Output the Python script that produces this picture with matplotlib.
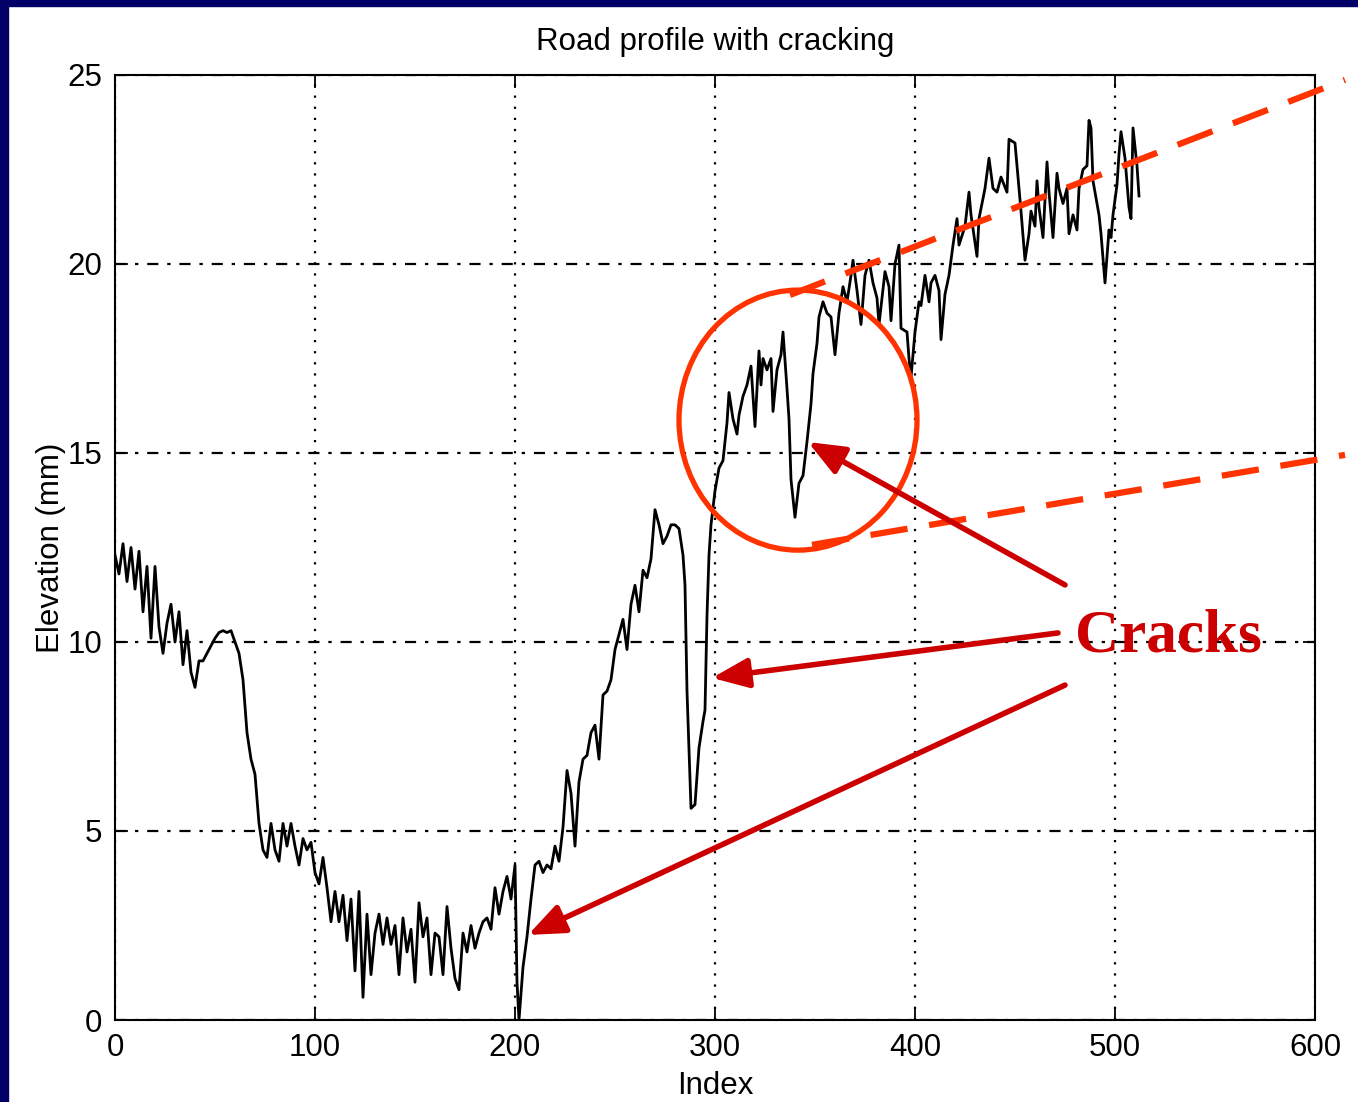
import matplotlib
matplotlib.use("Agg")
import matplotlib.pyplot as plt
from matplotlib.patches import Ellipse, Rectangle

# ---- data ----
index = [0, 2, 4, 6, 8, 10, 12, 14, 16, 18, 20, 22, 24, 26, 28, 30, 32, 34, 36, 38,
         40, 42, 44, 46, 48, 50, 52, 54, 56, 58, 60, 62, 64, 66, 68, 70, 72, 74, 76, 78,
         80, 82, 84, 86, 88, 90, 92, 94, 96, 98, 100, 102, 104, 106, 108, 110, 112, 114, 116, 118,
         120, 122, 124, 126, 128, 130, 132, 134, 136, 138, 140, 142, 144, 146, 148, 150, 152, 154, 156, 158,
         160, 162, 164, 166, 168, 170, 172, 174, 176, 178, 180, 182, 184, 186, 188, 190, 192, 194, 196, 198,
         200, 201, 202, 204, 206, 208, 210, 212, 214, 216, 218, 220, 222, 224, 226, 228, 230, 232, 234, 236,
         238, 240, 242, 244, 246, 248, 250, 252, 254, 256, 258, 260, 262, 264, 266, 268, 270, 272, 274, 276,
         278, 280, 282, 284, 285, 286, 288, 290, 292, 294, 295, 296, 297, 298, 300,
         302, 304, 306, 307, 309, 311, 312, 314, 316, 318, 320, 322, 323, 324, 326, 328, 329, 331, 333, 334,
         336, 337, 338, 340, 342, 344, 346, 348, 349, 351, 352, 354, 356, 358, 360, 362, 364, 366, 368, 369,
         371, 373, 375, 377, 379, 381, 382, 385, 387, 388, 390, 392, 393, 396, 397, 398, 400, 402, 403, 405,
         407, 408, 410, 412, 413, 415, 417, 419, 421, 422, 425, 427, 428, 431, 432, 435, 437, 439, 441, 443,
         446, 447, 450, 452, 453, 455, 457, 458, 460, 461, 462, 464, 466, 467, 469, 471, 472, 474, 476, 477,
         479, 481, 482, 484, 486, 487, 488, 489, 491, 492, 493, 495, 497, 498, 499, 501, 502, 503, 505, 507,
         508, 509, 511, 512]
elevation = [12.3, 11.8, 12.6, 11.6, 12.5, 11.4, 12.4, 10.8, 12.0, 10.1, 12.0, 10.4, 9.7, 10.5, 11.0, 10.0, 10.8, 9.4, 10.3, 9.2,
             8.8, 9.5, 9.5, 9.7, 9.9, 10.1, 10.25, 10.3, 10.25, 10.3, 10.0, 9.7, 9.0, 7.6, 6.9, 6.5, 5.2, 4.5, 4.3, 5.2,
             4.5, 4.2, 5.2, 4.6, 5.2, 4.6, 4.1, 4.8, 4.5, 4.7, 3.9, 3.6, 4.3, 3.5, 2.6, 3.4, 2.6, 3.3, 2.1, 3.2,
             1.3, 3.4, 0.6, 2.8, 1.2, 2.3, 2.8, 2.0, 2.7, 2.0, 2.5, 1.2, 2.7, 1.8, 2.4, 1.0, 3.1, 2.2, 2.7, 1.2,
             2.3, 2.2, 1.2, 3.0, 1.9, 1.1, 0.8, 2.3, 1.8, 2.5, 1.9, 2.3, 2.6, 2.7, 2.4, 3.5, 2.8, 3.4, 3.8, 3.2,
             4.1, 1.0, 0.0, 1.4, 2.2, 3.2, 4.1, 4.2, 3.9, 4.1, 4.0, 4.6, 4.2, 5.1, 6.6, 6.0, 4.6, 6.3, 6.9, 7.0,
             7.6, 7.8, 6.9, 8.6, 8.7, 9.0, 9.8, 10.2, 10.6, 9.8, 11.0, 11.5, 10.8, 11.9, 11.7, 12.2, 13.5, 13.1, 12.6, 12.8,
             13.1, 13.1, 13.0, 12.3, 11.5, 8.7, 5.6, 5.7, 7.2, 7.9, 8.2, 10.7, 12.3, 13.1, 14.0,
             14.6, 14.8, 15.8, 16.6, 15.9, 15.5, 16.0, 16.5, 16.8, 17.3, 15.7, 17.7, 16.8, 17.5, 17.2, 17.5, 16.1, 17.2, 17.6, 18.2,
             16.7, 15.9, 14.3, 13.3, 14.2, 14.4, 15.3, 16.3, 17.1, 17.9, 18.6, 19.0, 18.7, 18.6, 17.6, 18.7, 19.4, 19.0, 19.7, 20.1,
             19.3, 18.4, 19.7, 20.1, 19.5, 19.1, 18.4, 19.8, 19.4, 18.5, 20.0, 20.5, 18.3, 18.2, 17.5, 17.0, 18.2, 19.0, 18.9, 19.7,
             19.0, 19.5, 19.7, 19.3, 18.0, 19.2, 19.7, 20.5, 21.2, 20.5, 21.0, 21.9, 21.3, 20.2, 21.2, 22.0, 22.8, 22.0, 21.9, 22.3,
             21.9, 23.3, 23.2, 22.0, 21.4, 20.1, 20.8, 21.4, 21.0, 22.2, 21.5, 20.7, 22.7, 21.9, 20.7, 22.4, 22.0, 21.6, 22.0, 20.8,
             21.3, 20.9, 22.0, 22.5, 22.6, 23.8, 23.6, 22.2, 21.6, 21.3, 20.8, 19.5, 20.9, 20.7, 21.3, 22.1, 22.9, 23.5, 22.8, 21.5,
             21.2, 23.6, 22.6, 21.8]

x_ticks = [0, 100, 200, 300, 400, 500, 600]
y_ticks = [0, 5, 10, 15, 20, 25]

title = "Road profile with cracking"
xlabel = "Index"
ylabel = "Elevation (mm)"
note = "Cracks"

W, H = 1358, 1102
plt.rcParams["font.family"] = ["Liberation Sans", "DejaVu Sans"]
fig = plt.figure(figsize=(W / 100, H / 100), dpi=100)
fig.patch.set_facecolor("white")

# navy frame on top and left
fig.patches.append(Rectangle((0, 1 - 6 / H), 1, 6 / H, transform=fig.transFigure,
                             color="#000066", zorder=0))
fig.patches.append(Rectangle((0, 0), 8 / W, 1, transform=fig.transFigure,
                             color="#000066", zorder=0))

ax = fig.add_axes([115 / W, 1 - 1020 / H, 1200 / W, 945 / H])
ax.plot(index, elevation, color="black", lw=2.0, zorder=3)
ax.set_xlim(0, 600)
ax.set_ylim(0, 25)
ax.set_xticks(x_ticks)
ax.set_yticks(y_ticks)
ax.tick_params(direction="in", top=True, right=True, length=9, width=1.3,
               labelsize=22.5, pad=9)
for s in ax.spines.values():
    s.set_linewidth(1.5)
ax.xaxis.grid(True, color="black", lw=1.6, linestyle=(0, (1, 4)))
ax.yaxis.grid(True, color="black", lw=1.6, linestyle=(0, (5, 4, 1.5, 4)))
ax.set_axisbelow(True)
ax.set_title(title, fontsize=22.5, pad=18)
ax.set_xlabel(xlabel, fontsize=22.5, labelpad=6)
ax.set_ylabel(ylabel, fontsize=22.5, labelpad=1)

# annotations
red = "#FF3300"
dark = "#CC0000"
ax.add_patch(Ellipse((341.5, 15.87), 119, 6.88, fill=False, edgecolor=red, lw=3.8,
                     clip_on=False, zorder=5))
ax.plot([337.5, 615], [19.18, 24.87], color=red, lw=4.5, linestyle=(0, (6, 3.5)),
        clip_on=False, zorder=5)
ax.plot([348.5, 615], [12.57, 14.95], color=red, lw=4.5, linestyle=(0, (6, 3.5)),
        clip_on=False, zorder=5)

arrow_tails = [(475, 11.51), (471.5, 10.24), (475, 8.86)]
arrow_heads = [(346.5, 15.29), (298.5, 9.05), (206.5, 2.25)]
for tail, head in zip(arrow_tails, arrow_heads):
    ax.annotate("", xy=head, xytext=tail, annotation_clip=False,
                arrowprops=dict(arrowstyle="-|>,head_length=1.1,head_width=0.45",
                                color=dark, lw=4, mutation_scale=20,
                                shrinkA=0, shrinkB=0), zorder=6)

ax.text(480, 9.74, note, fontsize=44, fontweight="bold", color=dark,
        family=["Liberation Serif", "DejaVu Serif"], ha="left", va="baseline",
        zorder=7, clip_on=False)

fig.savefig("out.png", dpi=100, facecolor="white")
